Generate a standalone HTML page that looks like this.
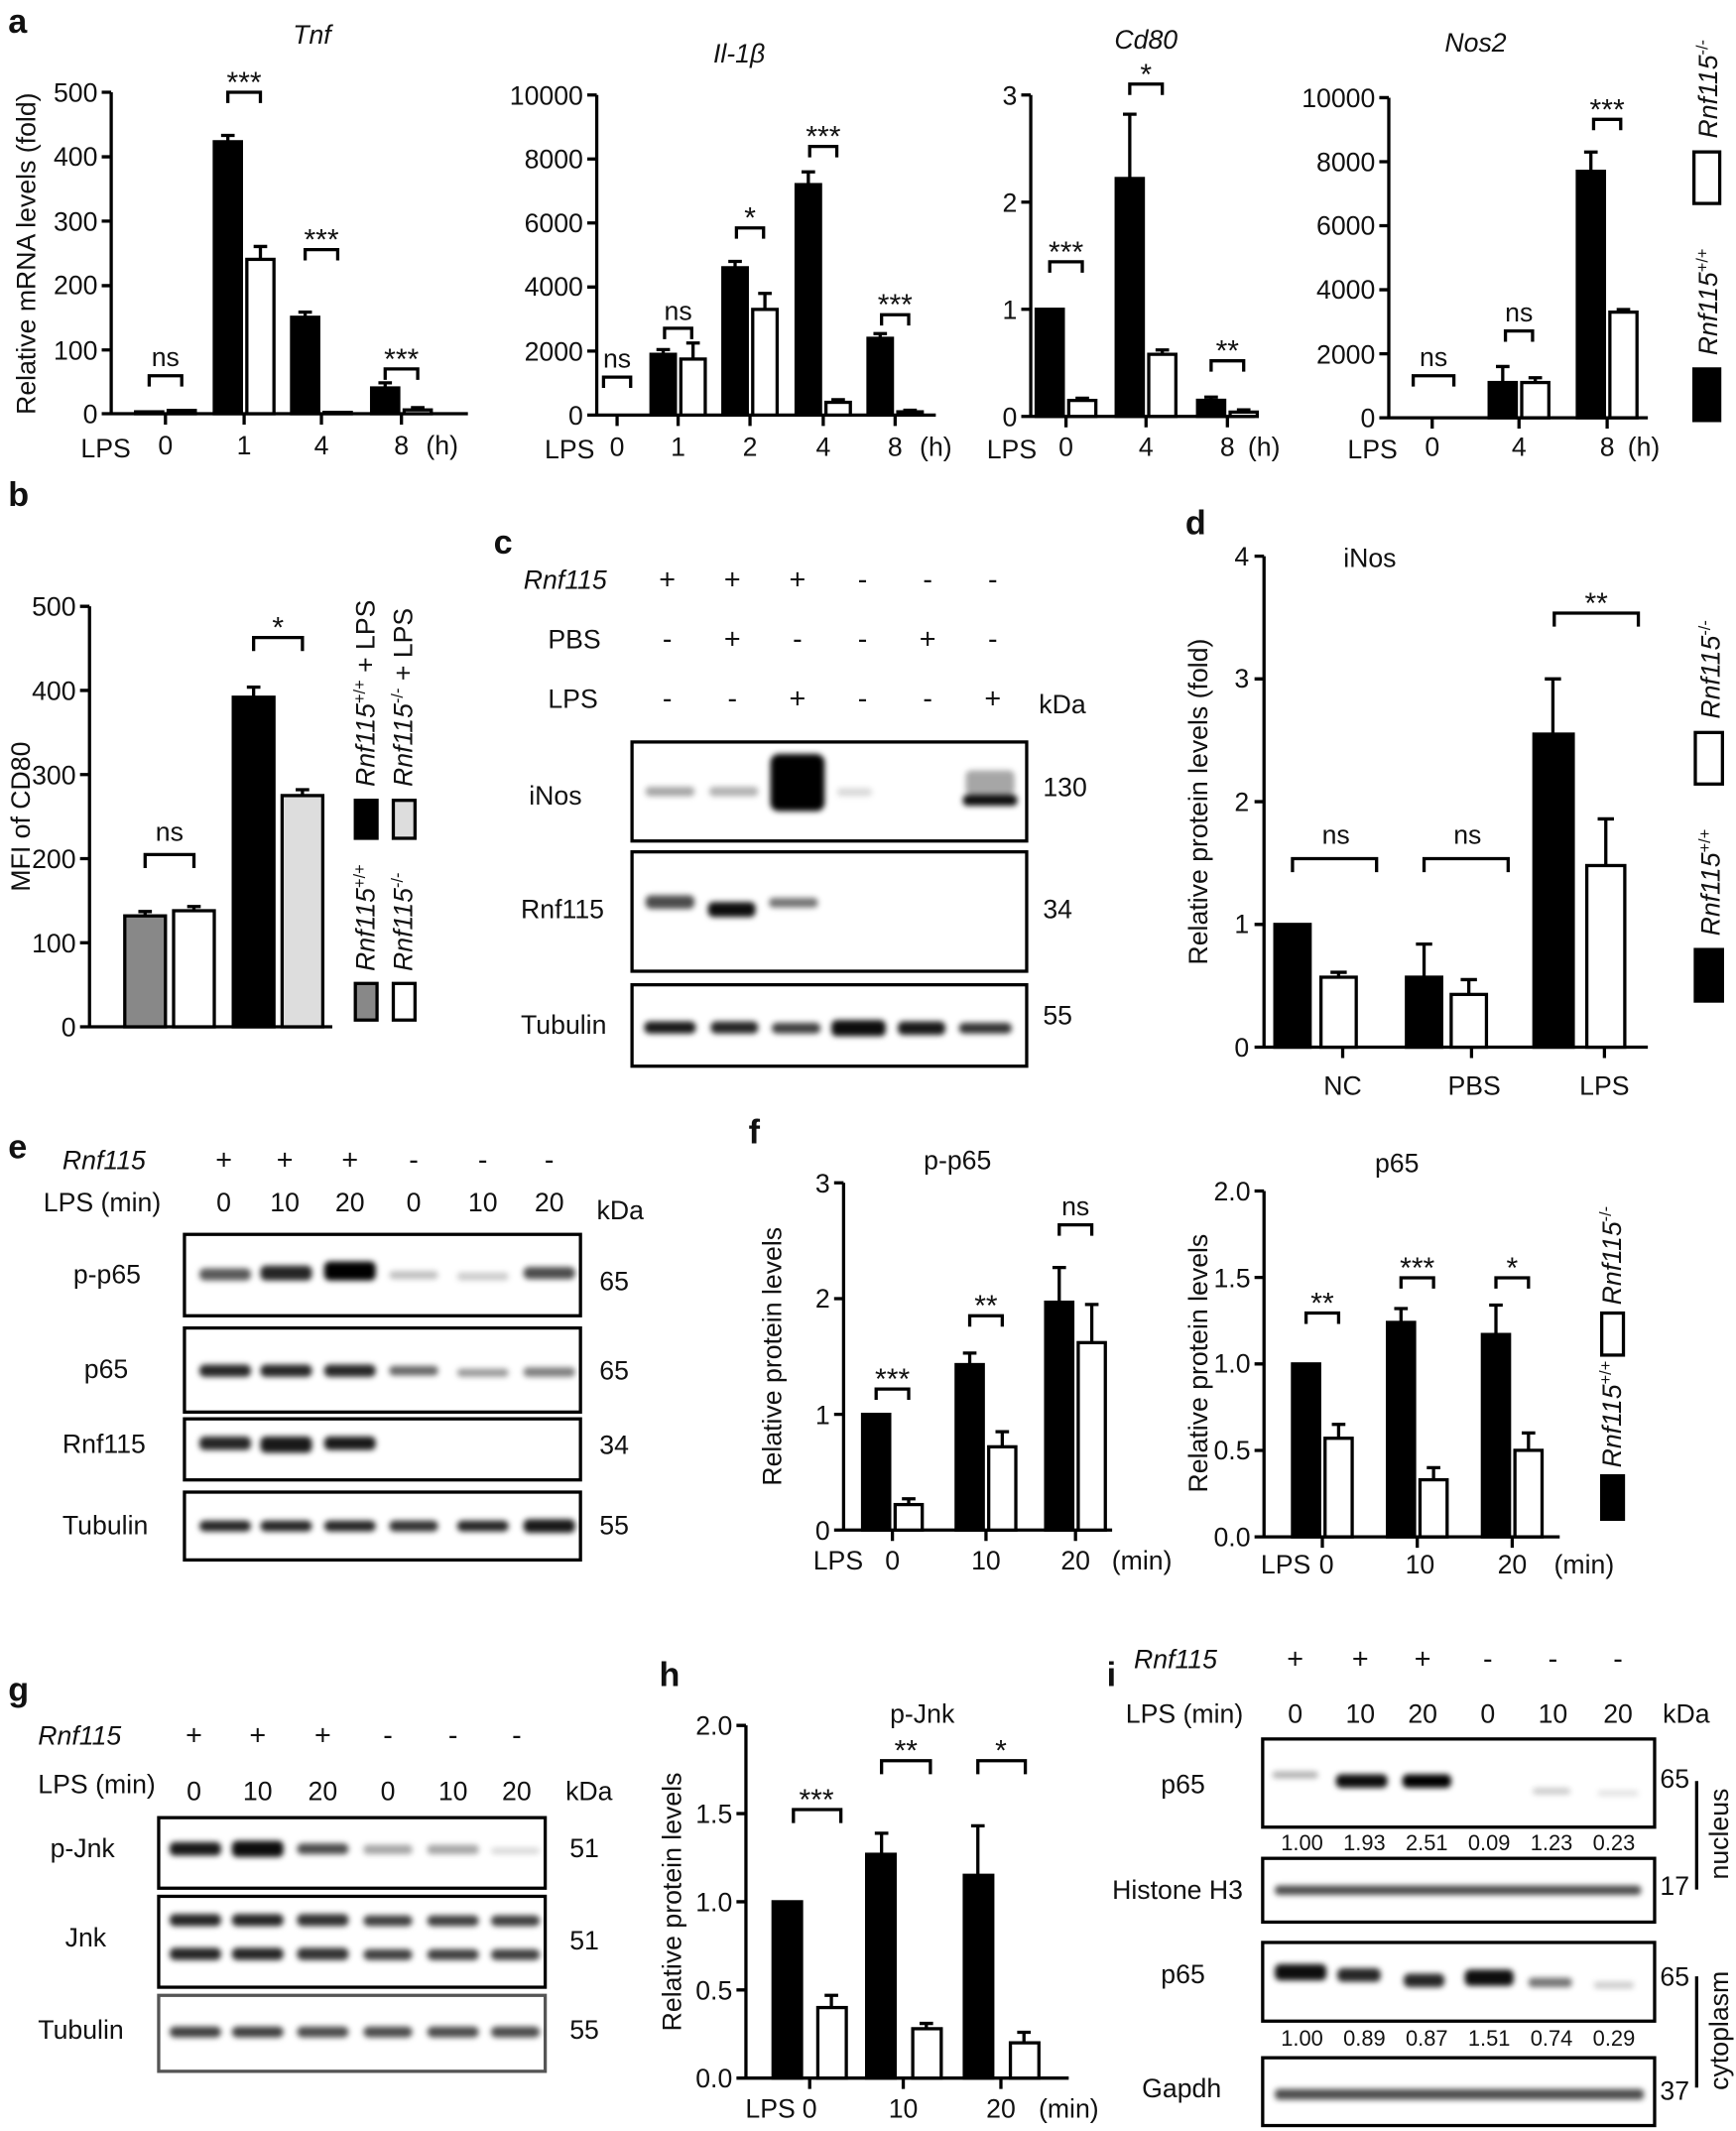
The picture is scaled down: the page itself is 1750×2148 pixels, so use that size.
<!DOCTYPE html>
<html><head><meta charset="utf-8"><style>
html,body{margin:0;padding:0;background:#fff}
svg{display:block}
text{font-family:"Liberation Sans",Arial,sans-serif;fill:#111}
.t{font-size:19.5px}
.it{font-style:italic}
.b{font-weight:bold;font-size:25px}
.st{font-size:22px}
</style></head><body>
<svg width="1750" height="2148" viewBox="0 0 1280 1571" preserveAspectRatio="none" xmlns="http://www.w3.org/2000/svg">
<defs><filter id="bl" x="-30%" y="-100%" width="160%" height="300%"><feGaussianBlur stdDeviation="2.2"/></filter></defs>
<g stroke="#000" fill="none" stroke-width="2.4">

<path d="M82 68V305H345M75 68H82M75 115.6H82M75 163H82M75 210.6H82M75 258H82M75 305H82M122 305V313M180 305V313M237 305V313M296 305V313"/>
<rect x="100" y="303.6" width="20" height="1.4" fill="#000"/><rect x="124" y="302.6" width="20" height="2.4" fill="#fff"/>
<rect x="158" y="104.5" width="20" height="200.5" fill="#000"/><rect x="182" y="191.2" width="20" height="113.8" fill="#fff"/>
<rect x="215" y="233.9" width="20" height="71.1" fill="#000"/><rect x="239" y="304" width="20" height="1" fill="#fff"/>
<rect x="274" y="286" width="20" height="19" fill="#000"/><rect x="298" y="302.2" width="20" height="2.8" fill="#fff"/>
<path d="M168 104.5V99.8M163 99.8H173M192 191.2V181.7M187 181.7H197M225 233.9V230.1M220 230.1H230M284 286V282.2M279 282.2H289M308 302V300.5M303 300.5H313"/>
<path d="M110 285V277H134V285M168 76V68H192V76M225 192V184H249V192M284 280V272H308V280"/>

<path d="M440 70V306H690M433 70H440M433 117.2H440M433 164.4H440M433 211.6H440M433 258.8H440M433 306H440M455 306V314M500 306V314M553 306V314M607 306V314M660 306V314"/>
<rect x="480" y="261.2" width="18" height="44.8" fill="#000"/><rect x="502" y="264.7" width="18" height="41.3" fill="#fff"/>
<rect x="533" y="197.4" width="18" height="108.6" fill="#000"/><rect x="555" y="228.1" width="18" height="77.9" fill="#fff"/>
<rect x="587" y="136.1" width="18" height="169.9" fill="#000"/><rect x="609" y="296.6" width="18" height="9.4" fill="#fff"/>
<rect x="640" y="249.4" width="18" height="56.6" fill="#000"/><rect x="662" y="303.6" width="18" height="2.4" fill="#fff"/>
<path d="M489 261V257.7M484 257.7H494M511 264.7V252.9M506 252.9H516M542 197V192.7M537 192.7H547M564 228V216.3M559 216.3H569M596 136V126.7M591 126.7H601M618 296.6V294.7M613 294.7H623M649 249.4V245.9M644 245.9H654M671 303.6V302.4M666 302.4H676"/>
<path d="M445 286V278H465V286M490 250V242H510V250M543 176V168H563V176M597 116V108H617V116M650 240V232H670V240"/>

<path d="M760 70V307H925M753 70H760M753 149H760M753 228H760M753 307H760M786 307V315M845 307V315M905 307V315"/>
<rect x="764" y="228" width="20" height="79" fill="#000"/><rect x="788" y="295.2" width="20" height="11.8" fill="#fff"/>
<rect x="823" y="131.6" width="20" height="175.4" fill="#000"/><rect x="847" y="261.2" width="20" height="45.8" fill="#fff"/>
<rect x="883" y="295.1" width="20" height="11.9" fill="#000"/><rect x="907" y="303.8" width="20" height="3.2" fill="#fff"/>
<path d="M798 295V293.6M793 293.6H803M833 131.6V84.2M828 84.2H838M857 261V258M852 258H862M893 295V292.7M888 292.7H898M917 303.8V302.2M912 302.2H922"/>
<path d="M774 201V193H798V201M833 70V62H857V70M893 274V266H917V274"/>

<path d="M1024 72V308H1215M1017 72H1024M1017 119.2H1024M1017 166.4H1024M1017 213.6H1024M1017 260.8H1024M1017 308H1024M1056 308V316M1120 308V316M1185 308V316"/>
<rect x="1098" y="282" width="20" height="26" fill="#000"/><rect x="1122" y="282" width="20" height="26" fill="#fff"/>
<rect x="1163" y="126.3" width="20" height="181.7" fill="#000"/><rect x="1187" y="230.1" width="20" height="77.9" fill="#fff"/>
<path d="M1108 282V270.2M1103 270.2H1113M1132 282V278.5M1127 278.5H1137M1173 126.3V112.1M1168 112.1H1178M1197 230V228.2M1192 228.2H1202"/>
<path d="M1042 285V277H1072V285M1110 252V244H1130V252M1175 96V88H1195V96"/>
<rect x="1249" y="112" width="19" height="38" fill="#fff"/><rect x="1249" y="272" width="19" height="38" fill="#000"/>

<path d="M66 447V757H245M59 447H66M59 509H66M59 571H66M59 633H66M59 695H66M59 757H66"/>
<rect x="92" y="675.2" width="30" height="81.8" fill="#888"/><rect x="128" y="671.4" width="30" height="85.6" fill="#fff"/>
<rect x="172" y="514" width="30" height="243" fill="#000"/><rect x="208" y="586.5" width="30" height="170.5" fill="#ddd"/>
<path d="M107 675V672M102 672H112M143 671V668.3M138 668.3H148M187 514V506.6M182 506.6H192M223 586.5V582.2M218 582.2H228"/>
<path d="M107 640V630H143V640M187 480V470H223V480"/>
<rect x="262" y="590" width="16" height="28" fill="#000"/><rect x="290" y="590" width="16" height="28" fill="#ddd"/>
<rect x="262" y="725" width="16" height="27" fill="#888"/><rect x="290" y="725" width="16" height="27" fill="#fff"/>

<path d="M932 410V772H1215M925 410H932M925 500.5H932M925 591H932M925 681.5H932M925 772H932M990 772V780M1085 772V780M1183 772V780"/>
<rect x="940" y="681.5" width="26" height="90.5" fill="#000"/><rect x="974" y="720.4" width="26" height="51.6" fill="#fff"/>
<rect x="1037" y="720.4" width="26" height="51.6" fill="#000"/><rect x="1070" y="733.1" width="26" height="38.9" fill="#fff"/>
<rect x="1131" y="541.2" width="29" height="230.8" fill="#000"/><rect x="1170" y="638.1" width="28" height="133.9" fill="#fff"/>
<path d="M987 720V716.8M981 716.8H993M1050 720V696M1044 696H1056M1083 733V722.2M1077 722.2H1089M1145 541V500.5M1139 500.5H1151M1184 638V603.7M1178 603.7H1190"/>
<path d="M953 643V633H1015V643M1050 643V633H1112V643M1146 462V452H1208V462"/>
<rect x="1250" y="540" width="20" height="38" fill="#fff"/><rect x="1250" y="700" width="20" height="38" fill="#000"/>

<path d="M622 872V1128H820M615 872H622M615 957.4H622M615 1042.7H622M615 1128H622M658 1128V1136M727 1128V1136M793 1128V1136"/>
<rect x="636" y="1042.7" width="20" height="85.3" fill="#000"/><rect x="660" y="1109.2" width="20" height="18.8" fill="#fff"/>
<rect x="705" y="1006" width="20" height="122" fill="#000"/><rect x="729" y="1066.6" width="20" height="61.4" fill="#fff"/>
<rect x="771" y="960" width="20" height="168" fill="#000"/><rect x="795" y="989.8" width="20" height="138.2" fill="#fff"/>
<path d="M670 1109V1104.9M665 1104.9H675M715 1006V997.5M710 997.5H720M739 1066.6V1055.5M734 1055.5H744M781 960V934.4M776 934.4H786M805 990V961.7M800 961.7H810"/>
<path d="M646 1032V1024H670V1032M715 978V970H739V978M781 911V903H805V911"/>

<path d="M932 878V1133H1150M925 878H932M925 941.75H932M925 1005.5H932M925 1069.25H932M925 1133H932M975 1133V1141M1045 1133V1141M1115 1133V1141"/>
<rect x="953" y="1005.5" width="20" height="127.5" fill="#000"/><rect x="977" y="1060.3" width="20" height="72.7" fill="#fff"/>
<rect x="1023" y="974.9" width="20" height="158.1" fill="#000"/><rect x="1047" y="1090.9" width="20" height="42.1" fill="#fff"/>
<rect x="1093" y="983.8" width="20" height="149.2" fill="#000"/><rect x="1117" y="1069.2" width="20" height="63.8" fill="#fff"/>
<path d="M987 1060V1050.1M982 1050.1H992M1033 975V964.7M1028 964.7H1038M1057 1091V1082M1052 1082H1062M1103 984V962.1M1098 962.1H1108M1127 1069V1056.4M1122 1056.4H1132"/>
<path d="M963 976V968H987V976M1033 950V942H1057V950M1103 950V942H1127V950"/>
<rect x="1181" y="968" width="16" height="31" fill="#fff"/><rect x="1181" y="1088" width="16" height="32" fill="#000"/>

<path d="M550 1272V1532H788M543 1272H550M543 1337H550M543 1402H550M543 1467H550M543 1532H550M597 1532V1540M666 1532V1540M738 1532V1540"/>
<rect x="570" y="1402" width="21" height="130" fill="#000"/><rect x="603" y="1480" width="21" height="52" fill="#fff"/>
<rect x="639" y="1367" width="21" height="165" fill="#000"/><rect x="673" y="1495.6" width="21" height="36.4" fill="#fff"/>
<rect x="711" y="1382.5" width="21" height="149.5" fill="#000"/><rect x="745" y="1506" width="21" height="26" fill="#fff"/>
<path d="M613 1480V1471M608 1471H618M650 1367V1351.5M645 1351.5H655M683 1495.6V1491.7M678 1491.7H688M721 1382.5V1346M716 1346H726M755 1506V1498.2M750 1498.2H760"/>
<path d="M585 1344V1334H620V1344M650 1308V1298H686V1308M721 1308V1298H756V1308"/>

<rect x="466" y="547" width="291" height="73"/>
<rect x="466" y="628" width="291" height="88"/>
<rect x="466" y="726" width="291" height="60"/>
<rect x="136" y="910" width="292" height="60"/>
<rect x="136" y="979" width="292" height="62"/>
<rect x="136" y="1046" width="292" height="45"/>
<rect x="136" y="1100" width="292" height="50"/>
<rect x="117" y="1340" width="285" height="52"/>
<rect x="117" y="1398" width="285" height="67"/>
<rect x="117" y="1471" width="285" height="56" stroke="#555"/>
<rect x="931" y="1282" width="289" height="65"/>
<rect x="931" y="1370" width="289" height="47"/>
<rect x="931" y="1432" width="289" height="58"/>
<rect x="931" y="1517" width="289" height="50"/>
<path d="M1251 1313V1393M1251 1457V1539"/>
</g>

<g fill="#000" filter="url(#bl)">
<rect x="476" y="580" width="36" height="7" rx="3" opacity=".35"/>
<rect x="523" y="580" width="36" height="7" rx="3" opacity=".3"/>
<rect x="568" y="556" width="40" height="42" rx="6" opacity="1"/>
<rect x="617" y="581" width="26" height="6" rx="3" opacity=".15"/>
<rect x="710" y="586" width="40" height="8" rx="3" opacity=".95"/>
<rect x="712" y="568" width="36" height="18" rx="4" opacity=".35"/>
<rect x="476" y="660" width="36" height="10" rx="4" opacity=".7"/>
<rect x="522" y="665" width="35" height="11" rx="4" opacity=".95"/>
<rect x="567" y="662" width="36" height="7" rx="3" opacity=".55"/>
<rect x="475" y="753" width="38" height="9" rx="4" opacity=".9"/>
<rect x="524" y="753" width="35" height="9" rx="4" opacity=".85"/>
<rect x="569" y="754" width="36" height="8" rx="4" opacity=".75"/>
<rect x="613" y="752" width="40" height="12" rx="4" opacity=".95"/>
<rect x="662" y="753" width="35" height="10" rx="4" opacity=".9"/>
<rect x="707" y="754" width="39" height="8" rx="4" opacity=".8"/>
<rect x="147" y="935" width="38" height="9" rx="4" opacity=".65"/>
<rect x="192" y="933" width="38" height="11" rx="4" opacity=".85"/>
<rect x="239" y="930" width="38" height="14" rx="4" opacity="1"/>
<rect x="287" y="937" width="36" height="6" rx="3" opacity=".25"/>
<rect x="337" y="938" width="38" height="6" rx="3" opacity=".2"/>
<rect x="386" y="934" width="38" height="9" rx="4" opacity=".7"/>
<rect x="147" y="1006" width="38" height="9" rx="4" opacity=".85"/>
<rect x="192" y="1006" width="38" height="9" rx="4" opacity=".85"/>
<rect x="239" y="1006" width="38" height="9" rx="4" opacity=".85"/>
<rect x="287" y="1007" width="36" height="7" rx="3" opacity=".6"/>
<rect x="337" y="1009" width="38" height="6" rx="3" opacity=".4"/>
<rect x="386" y="1008" width="38" height="7" rx="3" opacity=".5"/>
<rect x="147" y="1059" width="38" height="10" rx="4" opacity=".85"/>
<rect x="192" y="1059" width="38" height="12" rx="4" opacity=".9"/>
<rect x="239" y="1059" width="38" height="10" rx="4" opacity=".9"/>
<rect x="147" y="1121" width="38" height="8" rx="4" opacity=".85"/>
<rect x="192" y="1121" width="38" height="8" rx="4" opacity=".85"/>
<rect x="239" y="1121" width="38" height="8" rx="4" opacity=".85"/>
<rect x="287" y="1121" width="36" height="8" rx="4" opacity=".8"/>
<rect x="337" y="1121" width="38" height="8" rx="4" opacity=".85"/>
<rect x="386" y="1120" width="38" height="10" rx="4" opacity=".9"/>
<rect x="125" y="1358" width="38" height="10" rx="4" opacity=".9"/>
<rect x="171" y="1357" width="38" height="12" rx="4" opacity=".95"/>
<rect x="219" y="1359" width="38" height="8" rx="4" opacity=".7"/>
<rect x="268" y="1360" width="36" height="7" rx="3" opacity=".35"/>
<rect x="315" y="1360" width="38" height="7" rx="3" opacity=".35"/>
<rect x="362" y="1362" width="36" height="5" rx="3" opacity=".15"/>
<rect x="125" y="1411" width="38" height="9" rx="4" opacity=".85"/><rect x="125" y="1436" width="38" height="9" rx="4" opacity=".85"/>
<rect x="171" y="1411" width="38" height="9" rx="4" opacity=".85"/><rect x="171" y="1436" width="38" height="9" rx="4" opacity=".85"/>
<rect x="219" y="1411" width="38" height="9" rx="4" opacity=".8"/><rect x="219" y="1436" width="38" height="9" rx="4" opacity=".8"/>
<rect x="268" y="1412" width="36" height="8" rx="4" opacity=".75"/><rect x="268" y="1437" width="36" height="8" rx="4" opacity=".75"/>
<rect x="315" y="1412" width="38" height="8" rx="4" opacity=".75"/><rect x="315" y="1437" width="38" height="8" rx="4" opacity=".75"/>
<rect x="362" y="1412" width="36" height="8" rx="4" opacity=".75"/><rect x="362" y="1437" width="36" height="8" rx="4" opacity=".75"/>
<rect x="125" y="1494" width="38" height="8" rx="4" opacity=".75"/>
<rect x="171" y="1494" width="38" height="8" rx="4" opacity=".75"/>
<rect x="219" y="1494" width="38" height="8" rx="4" opacity=".7"/>
<rect x="268" y="1494" width="36" height="8" rx="4" opacity=".7"/>
<rect x="315" y="1494" width="38" height="8" rx="4" opacity=".7"/>
<rect x="362" y="1494" width="36" height="8" rx="4" opacity=".7"/>
<rect x="938" y="1306" width="34" height="5" rx="3" opacity=".3"/>
<rect x="985" y="1308" width="38" height="10" rx="4" opacity=".95"/>
<rect x="1034" y="1308" width="36" height="10" rx="4" opacity="1"/>
<rect x="1130" y="1318" width="28" height="5" rx="3" opacity=".2"/>
<rect x="1178" y="1320" width="30" height="4" rx="2" opacity=".12"/>
<rect x="940" y="1390" width="270" height="7" rx="3" opacity=".7"/>
<rect x="940" y="1448" width="38" height="12" rx="4" opacity=".95"/>
<rect x="986" y="1451" width="32" height="10" rx="4" opacity=".85"/>
<rect x="1035" y="1455" width="30" height="10" rx="4" opacity=".85"/>
<rect x="1080" y="1452" width="36" height="12" rx="4" opacity=".95"/>
<rect x="1127" y="1458" width="32" height="7" rx="3" opacity=".55"/>
<rect x="1175" y="1461" width="30" height="5" rx="3" opacity=".2"/>
<rect x="940" y="1540" width="272" height="8" rx="3" opacity=".7"/>
</g>

<g class="t">
<text class="b" x="6" y="24">a</text>
<text class="it" x="230" y="32" text-anchor="middle">Tnf</text>
<text class="it" x="545" y="46" text-anchor="middle">Il-1β</text>
<text class="it" x="845" y="36" text-anchor="middle">Cd80</text>
<text class="it" x="1088" y="38" text-anchor="middle">Nos2</text>
<text transform="translate(26,187) rotate(-90)" text-anchor="middle">Relative mRNA levels (fold)</text>
<g text-anchor="end">
<text x="72" y="75">500</text><text x="72" y="122">400</text><text x="72" y="170">300</text><text x="72" y="217">200</text><text x="72" y="265">100</text><text x="72" y="312">0</text>
<text x="430" y="77">10000</text><text x="430" y="124">8000</text><text x="430" y="171">6000</text><text x="430" y="218">4000</text><text x="430" y="266">2000</text><text x="430" y="313">0</text>
<text x="750" y="77">3</text><text x="750" y="156">2</text><text x="750" y="235">1</text><text x="750" y="314">0</text>
<text x="1014" y="79">10000</text><text x="1014" y="126">8000</text><text x="1014" y="173">6000</text><text x="1014" y="220">4000</text><text x="1014" y="268">2000</text><text x="1014" y="315">0</text>
</g>
<g text-anchor="middle">
<text x="78" y="337">LPS</text><text x="122" y="335">0</text><text x="180" y="335">1</text><text x="237" y="335">4</text><text x="296" y="335">8</text><text x="326" y="335">(h)</text>
<text x="420" y="338">LPS</text><text x="455" y="336">0</text><text x="500" y="336">1</text><text x="553" y="336">2</text><text x="607" y="336">4</text><text x="660" y="336">8</text><text x="690" y="336">(h)</text>
<text x="746" y="338">LPS</text><text x="786" y="336">0</text><text x="845" y="336">4</text><text x="905" y="336">8</text><text x="932" y="336">(h)</text>
<text x="1012" y="338">LPS</text><text x="1056" y="336">0</text><text x="1120" y="336">4</text><text x="1185" y="336">8</text><text x="1212" y="336">(h)</text>
<text x="122" y="270">ns</text><text x="180" y="68" class="st">***</text><text x="237" y="184" class="st">***</text><text x="296" y="272" class="st">***</text>
<text x="455" y="271">ns</text><text x="500" y="236">ns</text><text x="553" y="168" class="st">*</text><text x="607" y="108" class="st">***</text><text x="660" y="232" class="st">***</text>
<text x="786" y="193" class="st">***</text><text x="845" y="62" class="st">*</text><text x="905" y="266" class="st">**</text>
<text x="1057" y="270">ns</text><text x="1120" y="237">ns</text><text x="1185" y="88" class="st">***</text>
</g>
<text transform="translate(1266,102) rotate(-90)"><tspan class="it">Rnf115</tspan><tspan font-size="12" dy="-7">-/-</tspan></text>
<text transform="translate(1266,262) rotate(-90)"><tspan class="it">Rnf115</tspan><tspan font-size="12" dy="-7">+/+</tspan></text>

<text class="b" x="6" y="373">b</text>
<text transform="translate(22,602) rotate(-90)" text-anchor="middle">MFI of CD80</text>
<g text-anchor="end"><text x="56" y="454">500</text><text x="56" y="516">400</text><text x="56" y="578">300</text><text x="56" y="640">200</text><text x="56" y="702">100</text><text x="56" y="764">0</text></g>
<text x="125" y="620" text-anchor="middle">ns</text><text x="205" y="470" text-anchor="middle" class="st">*</text>
<text transform="translate(276,580) rotate(-90)"><tspan class="it">Rnf115</tspan><tspan font-size="12" dy="-7">+/+</tspan><tspan dy="7"> + LPS</tspan></text>
<text transform="translate(304,580) rotate(-90)"><tspan class="it">Rnf115</tspan><tspan font-size="12" dy="-7">-/-</tspan><tspan dy="7"> + LPS</tspan></text>
<text transform="translate(276,716) rotate(-90)"><tspan class="it">Rnf115</tspan><tspan font-size="12" dy="-7">+/+</tspan></text>
<text transform="translate(304,716) rotate(-90)"><tspan class="it">Rnf115</tspan><tspan font-size="12" dy="-7">-/-</tspan></text>

<text class="b" x="364" y="408">c</text>
<text class="it" x="386" y="434">Rnf115</text><text x="404" y="478">PBS</text><text x="404" y="522">LPS</text><text x="766" y="526">kDa</text>
<g text-anchor="middle" font-size="21">
<text x="492" y="434">+</text><text x="540" y="434">+</text><text x="588" y="434">+</text><text x="636" y="434">-</text><text x="684" y="434">-</text><text x="732" y="434">-</text>
<text x="492" y="478">-</text><text x="540" y="478">+</text><text x="588" y="478">-</text><text x="636" y="478">-</text><text x="684" y="478">+</text><text x="732" y="478">-</text>
<text x="492" y="522">-</text><text x="540" y="522">-</text><text x="588" y="522">+</text><text x="636" y="522">-</text><text x="684" y="522">-</text><text x="732" y="522">+</text>
</g>
<text x="390" y="593">iNos</text><text x="384" y="677">Rnf115</text><text x="384" y="762">Tubulin</text>
<text x="769" y="587">130</text><text x="769" y="677">34</text><text x="769" y="755">55</text>

<text class="b" x="874" y="394">d</text>
<text x="1010" y="418" text-anchor="middle">iNos</text>
<text transform="translate(890,591) rotate(-90)" text-anchor="middle">Relative protein levels (fold)</text>
<g text-anchor="end"><text x="921" y="417">4</text><text x="921" y="507">3</text><text x="921" y="598">2</text><text x="921" y="688">1</text><text x="921" y="779">0</text></g>
<g text-anchor="middle"><text x="990" y="807">NC</text><text x="1087" y="807">PBS</text><text x="1183" y="807">LPS</text>
<text x="985" y="622">ns</text><text x="1082" y="622">ns</text><text x="1177" y="452" class="st">**</text></g>
<text transform="translate(1268,530) rotate(-90)"><tspan class="it">Rnf115</tspan><tspan font-size="12" dy="-7">-/-</tspan></text>
<text transform="translate(1268,690) rotate(-90)"><tspan class="it">Rnf115</tspan><tspan font-size="12" dy="-7">+/+</tspan></text>

<text class="b" x="6" y="854">e</text>
<text class="it" x="46" y="862">Rnf115</text><text x="32" y="893">LPS (min)</text><text x="440" y="899">kDa</text>
<g text-anchor="middle">
<text x="165" y="862" font-size="21">+</text><text x="210" y="862" font-size="21">+</text><text x="258" y="862" font-size="21">+</text><text x="305" y="862" font-size="21">-</text><text x="356" y="862" font-size="21">-</text><text x="405" y="862" font-size="21">-</text>
<text x="165" y="893">0</text><text x="210" y="893">10</text><text x="258" y="893">20</text><text x="305" y="893">0</text><text x="356" y="893">10</text><text x="405" y="893">20</text>
</g>
<text x="54" y="946">p-p65</text><text x="62" y="1016">p65</text><text x="46" y="1071">Rnf115</text><text x="46" y="1131">Tubulin</text>
<text x="442" y="951">65</text><text x="442" y="1017">65</text><text x="442" y="1072">34</text><text x="442" y="1131">55</text>

<text class="b" x="552" y="843">f</text>
<text x="706" y="862" text-anchor="middle">p-p65</text>
<text x="1030" y="864" text-anchor="middle">p65</text>
<text transform="translate(576,1000) rotate(-90)" text-anchor="middle">Relative protein levels</text>
<text transform="translate(890,1005) rotate(-90)" text-anchor="middle">Relative protein levels</text>
<g text-anchor="end"><text x="612" y="879">3</text><text x="612" y="964">2</text><text x="612" y="1050">1</text><text x="612" y="1135">0</text>
<text x="922" y="885">2.0</text><text x="922" y="949">1.5</text><text x="922" y="1012">1.0</text><text x="922" y="1076">0.5</text><text x="922" y="1140">0.0</text></g>
<g text-anchor="middle">
<text x="618" y="1157">LPS</text><text x="658" y="1157">0</text><text x="727" y="1157">10</text><text x="793" y="1157">20</text><text x="842" y="1157">(min)</text>
<text x="948" y="1160">LPS</text><text x="978" y="1160">0</text><text x="1047" y="1160">10</text><text x="1115" y="1160">20</text><text x="1168" y="1160">(min)</text>
<text x="658" y="1024" class="st">***</text><text x="727" y="970" class="st">**</text><text x="793" y="896">ns</text>
<text x="975" y="968" class="st">**</text><text x="1045" y="942" class="st">***</text><text x="1115" y="942" class="st">*</text>
</g>
<text transform="translate(1195,962) rotate(-90)"><tspan class="it">Rnf115</tspan><tspan font-size="12" dy="-7">-/-</tspan></text>
<text transform="translate(1195,1082) rotate(-90)"><tspan class="it">Rnf115</tspan><tspan font-size="12" dy="-7">+/+</tspan></text>

<text class="b" x="6" y="1254">g</text>
<text class="it" x="28" y="1286">Rnf115</text><text x="28" y="1322">LPS (min)</text><text x="417" y="1327">kDa</text>
<g text-anchor="middle">
<text x="143" y="1286" font-size="21">+</text><text x="190" y="1286" font-size="21">+</text><text x="238" y="1286" font-size="21">+</text><text x="286" y="1286" font-size="21">-</text><text x="334" y="1286" font-size="21">-</text><text x="381" y="1286" font-size="21">-</text>
<text x="143" y="1327">0</text><text x="190" y="1327">10</text><text x="238" y="1327">20</text><text x="286" y="1327">0</text><text x="334" y="1327">10</text><text x="381" y="1327">20</text>
</g>
<text x="37" y="1369">p-Jnk</text><text x="48" y="1435">Jnk</text><text x="28" y="1503">Tubulin</text>
<text x="420" y="1369">51</text><text x="420" y="1437">51</text><text x="420" y="1503">55</text>

<text class="b" x="486" y="1243">h</text>
<text x="680" y="1270" text-anchor="middle">p-Jnk</text>
<text transform="translate(502,1402) rotate(-90)" text-anchor="middle">Relative protein levels</text>
<g text-anchor="end"><text x="540" y="1279">2.0</text><text x="540" y="1344">1.5</text><text x="540" y="1409">1.0</text><text x="540" y="1474">0.5</text><text x="540" y="1539">0.0</text></g>
<g text-anchor="middle">
<text x="568" y="1561">LPS</text><text x="597" y="1561">0</text><text x="666" y="1561">10</text><text x="738" y="1561">20</text><text x="788" y="1561">(min)</text>
<text x="602" y="1334" class="st">***</text><text x="668" y="1298" class="st">**</text><text x="738" y="1298" class="st">*</text>
</g>

<text class="b" x="816" y="1243">i</text>
<text class="it" x="836" y="1230">Rnf115</text><text x="830" y="1270">LPS (min)</text><text x="1226" y="1270">kDa</text>
<g text-anchor="middle">
<text x="955" y="1230" font-size="21">+</text><text x="1003" y="1230" font-size="21">+</text><text x="1049" y="1230" font-size="21">+</text><text x="1097" y="1230" font-size="21">-</text><text x="1145" y="1230" font-size="21">-</text><text x="1193" y="1230" font-size="21">-</text>
<text x="955" y="1270">0</text><text x="1003" y="1270">10</text><text x="1049" y="1270">20</text><text x="1097" y="1270">0</text><text x="1145" y="1270">10</text><text x="1193" y="1270">20</text>
<g font-size="16">
<text x="960" y="1364">1.00</text><text x="1006" y="1364">1.93</text><text x="1052" y="1364">2.51</text><text x="1098" y="1364">0.09</text><text x="1144" y="1364">1.23</text><text x="1190" y="1364">0.23</text>
<text x="960" y="1508">1.00</text><text x="1006" y="1508">0.89</text><text x="1052" y="1508">0.87</text><text x="1098" y="1508">1.51</text><text x="1144" y="1508">0.74</text><text x="1190" y="1508">0.29</text>
</g></g>
<text x="856" y="1322">p65</text><text x="820" y="1400">Histone H3</text><text x="856" y="1462">p65</text><text x="842" y="1546">Gapdh</text>
<text x="1224" y="1318">65</text><text x="1224" y="1397">17</text><text x="1224" y="1464">65</text><text x="1224" y="1548">37</text>
<text transform="translate(1274,1352) rotate(-90)" text-anchor="middle">nucleus</text>
<text transform="translate(1274,1497) rotate(-90)" text-anchor="middle">cytoplasm</text>
</g>
</svg>
</body></html>
